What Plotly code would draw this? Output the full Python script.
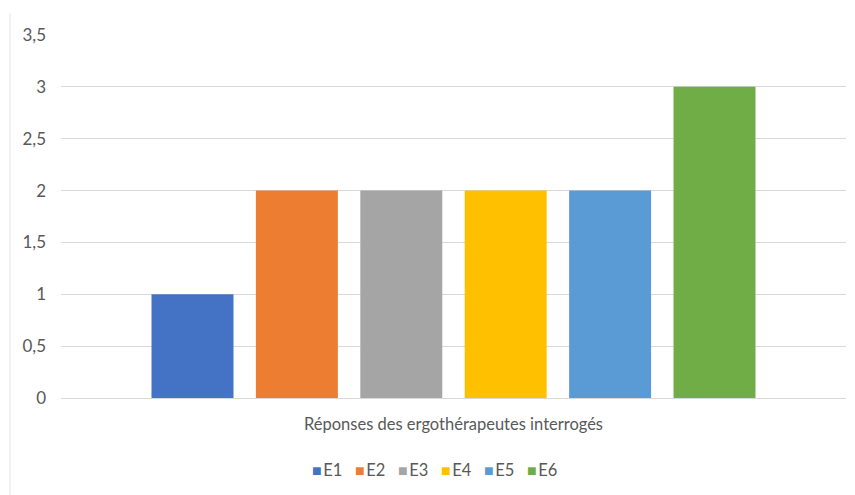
import plotly.graph_objects as go

category = ["Réponses des ergothérapeutes interrogés"]
series_names = ["E1", "E2", "E3", "E4", "E5", "E6"]
series_values = [1, 2, 2, 2, 2, 3]
colors = ["#4472C4", "#ED7D31", "#A5A5A5", "#FFC000", "#5B9BD5", "#70AD47"]
y_ticks = [0, 0.5, 1, 1.5, 2, 2.5, 3, 3.5]

fig = go.Figure()
for name, val, col in zip(series_names, series_values, colors):
    fig.add_trace(go.Bar(name=name, x=category, y=[val], marker_color=col,
                         marker_line_width=0, showlegend=False))

ff = "Lato, 'Open Sans', sans-serif"
tick_font = dict(family=ff, size=16.5, color="#595959")
ytick_font = dict(family=ff, size=17, color="#595959")

# legend drawn as a line of real text with coloured square glyphs
legend_text = "&nbsp;&nbsp;&nbsp;".join(
    f"<span style='color:{c};font-size:16px'>■</span>"
    f"<span style='font-size:6px'>&nbsp;</span>{n}"
    for n, c in zip(series_names, colors)
)

fig.update_layout(
    width=855, height=495,
    margin=dict(l=61, r=9, t=35, b=97),
    paper_bgcolor="white", plot_bgcolor="white",
    barmode="group", bargap=0.202, bargroupgap=0.215,
    separators=", ",
    font=tick_font,
    showlegend=False,
    xaxis=dict(showgrid=False, showline=False, ticks="", tickfont=tick_font,
               ticklabelstandoff=14),
    yaxis=dict(range=[0, 3.5], tickvals=y_ticks, showgrid=True, gridcolor="#D9D9D9",
               gridwidth=1, zeroline=True, zerolinecolor="#D9D9D9", zerolinewidth=1,
               showline=False, ticks="", tickfont=ytick_font, ticklabelstandoff=14),
    annotations=[dict(text=legend_text, xref="paper", yref="paper", x=0.4764, y=-0.198,
                      xanchor="center", yanchor="middle", showarrow=False,
                      font=dict(family=ff, size=16.5, color="#595959"))],
    shapes=[dict(type="line", xref="paper", yref="paper",
                 x0=-0.065, x1=-0.065, y0=1.06, y1=-0.28,
                 line=dict(color="#E3E3E3", width=1))],
)

fig.write_html("out.html")
